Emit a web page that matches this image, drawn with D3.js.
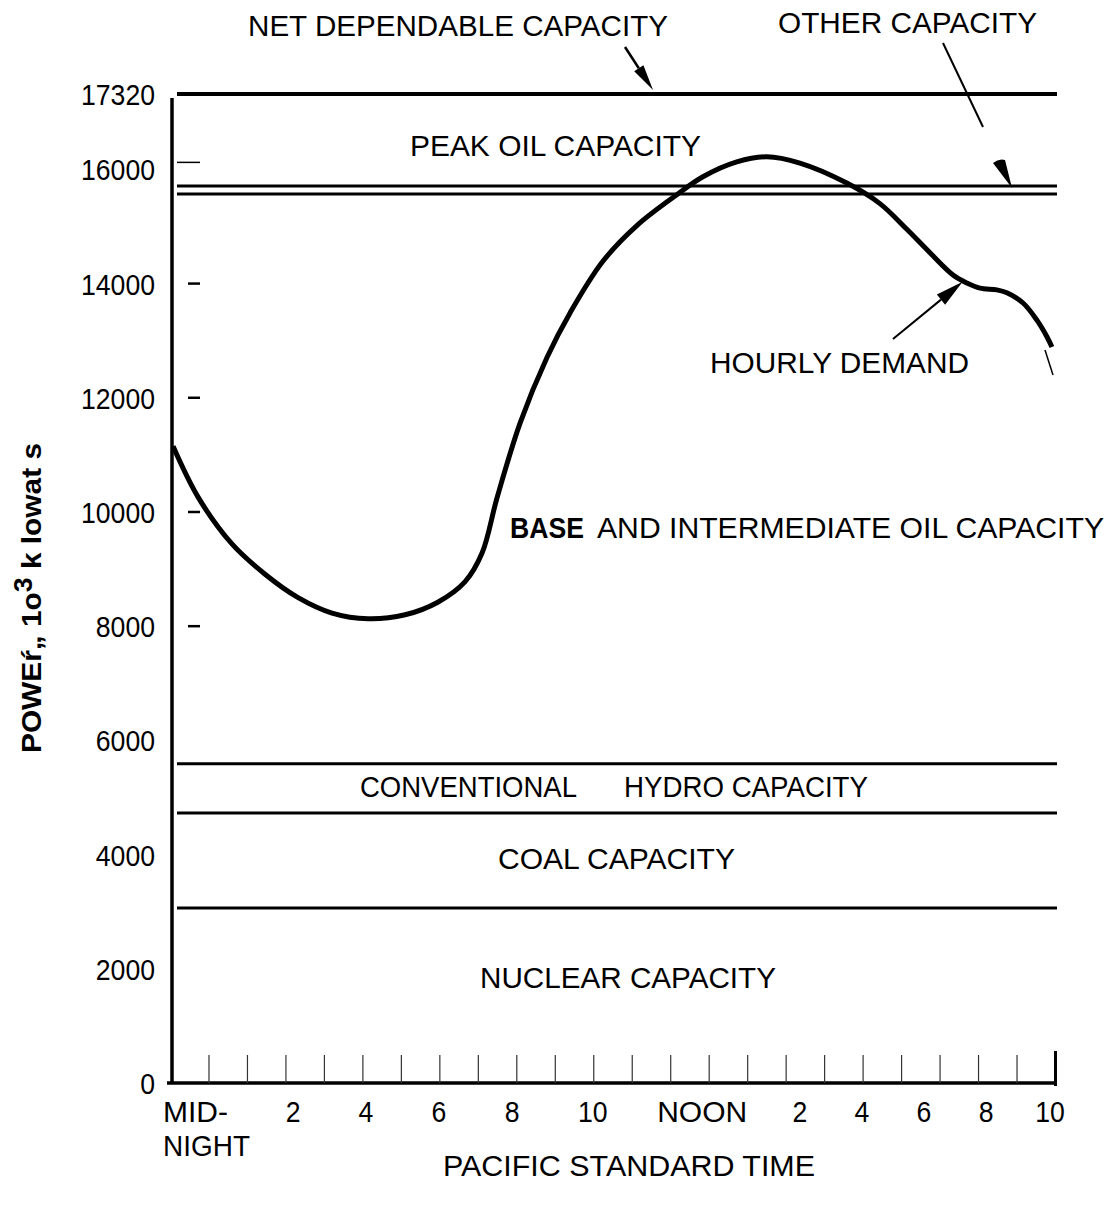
<!DOCTYPE html>
<html>
<head>
<meta charset="utf-8">
<script src="https://cdn.jsdelivr.net/npm/d3@7"></script>
<style>
body { margin: 0; background: #fff; }
text { font-family: "Liberation Sans", Arial, sans-serif; fill: #000; }
</style>
</head>
<body>
<svg id="chart" width="1109" height="1207"></svg>
<script>
"use strict"

// hourly demand (hour of day, 10^3 kW)
var demandHours  = [0.08, 0.73, 1.61, 2.47, 3.33, 4.21, 5.15, 6.11, 6.96, 7.67, 8.11, 8.5, 9.1, 9.8, 10.4,
                    11.25, 12.14, 13.18, 13.85, 14.73, 15.51, 16.37, 17.59, 18.45, 19.15, 19.75, 20.35,
                    20.71, 21.05, 21.49, 21.75, 22.17, 22.53, 22.79, 22.92];
var demandValues = [11150, 10260, 9440, 8910, 8500, 8230, 8130, 8200, 8420, 8780, 9280, 10250, 11560, 12710, 13490,
                    14390, 15020, 15560, 15870, 16130, 16220, 16110, 15760, 15400, 14950, 14540, 14150,
                    14010, 13920, 13890, 13840, 13660, 13360, 13070, 12890];

// capacity boundaries (10^3 kW)
var capacityNames  = ["net dependable", "peak oil", "other", "hydro", "coal", "nuclear"];
var capacityLevels = [17320, 15710, 15570, 5590, 4730, 3065];

var yTickValues = [0, 2000, 4000, 6000, 8000, 10000, 12000, 14000, 16000, 17320];
var yMinorTicks = [16000, 14000, 12000, 10000, 8000];

var xTickHours  = d3.range(1, 24);
var xLabels     = ["2", "4", "6", "8", "10", "NOON", "2", "4", "6", "8", "10"];
var xLabelHours = [3.2, 5.09, 6.99, 8.89, 10.99, 13.83, 16.37, 17.98, 19.59, 21.21, 22.87];

var svg = d3.select("#chart");

var x = d3.scaleLinear().domain([0, 23]).range([170, 1055]);
var y = d3.scaleLinear().domain([0, 17320]).range([1083, 94]);

var FS = 29;      // text size
var DIGIT = 14.8; // width of one digit in the original lettering

// text helper: left edge, right edge, vertical centre
function label(txt, x0, x1, cy, weight) {
	return svg.append("text")
	  .attr("x", x0)
	  .attr("y", cy + 10.5)
	  .attr("textLength", x1 - x0)
	  .attr("lengthAdjust", "spacingAndGlyphs")
	  .style("font-size", FS + "px")
	  .style("font-weight", weight || "normal")
	  .text(txt);
}

// capacity lines
svg.append("g")
  .selectAll("line")
  .data(capacityLevels)
  .enter()
  .append("line")
  .attr("x1", x(0) + 7)
  .attr("x2", x(23) + 2)
  .attr("y1", function(d){ return y(d); })
  .attr("y2", function(d){ return y(d); })
  .style("stroke", "#000")
  .style("stroke-width", function(d, i){ return i == 0 ? 4 : 3; });

// x axis: hourly ticks pointing up
var xAxis = d3.axisBottom(x)
  .tickValues(xTickHours)
  .tickSizeInner(-28)
  .tickSizeOuter(0)
  .tickFormat("");
var gx = svg.append("g")
  .attr("transform", "translate(0," + y(0) + ")")
  .call(xAxis);
gx.select(".domain")
  .attr("d", "M" + (x(0) - 3) + ",0H" + x(23))
  .style("stroke", "#000")
  .style("stroke-width", 3.5);
gx.selectAll(".tick line")
  .style("stroke", "#333")
  .style("stroke-width", 1.2);
gx.selectAll(".tick line")
  .filter(function(d){ return d == 23; })
  .attr("y1", 3)
  .attr("y2", -32)
  .style("stroke", "#000")
  .style("stroke-width", 3);

// x labels
svg.append("g")
  .selectAll("text")
  .data(xLabels)
  .enter()
  .append("text")
  .attr("x", function(d, i){ return x(xLabelHours[i]) - (d == "NOON" ? 45 : d.length * DIGIT / 2); })
  .attr("y", 1122)
  .attr("textLength", function(d){ return d == "NOON" ? 90 : d.length * DIGIT; })
  .attr("lengthAdjust", "spacingAndGlyphs")
  .style("font-size", FS + "px")
  .text(function(d){ return d; });
label("MID-", x(0) - 7, x(0) + 58, 1111);
label("NIGHT", x(0) - 7, x(0) + 80, 1145);

// y axis
var yAxis = d3.axisLeft(y)
  .tickValues(yTickValues)
  .tickSize(0)
  .tickPadding(17)
  .tickFormat(d3.format("d"));
var gy = svg.append("g")
  .attr("transform", "translate(" + (x(0) + 2) + ",0)")
  .call(yAxis);
gy.select(".domain")
  .attr("d", "M0," + (y(17320) + 4) + "V" + (y(0) + 1))
  .style("stroke", "#000")
  .style("stroke-width", 3.5);
gy.selectAll(".tick text")
  .style("font-size", FS + "px")
  .style("font-family", "'Liberation Sans', Arial, sans-serif")
  .attr("text-anchor", "start")
  .attr("x", function(d){ return -17 - String(d).length * DIGIT; })
  .attr("textLength", function(d){ return String(d).length * DIGIT; })
  .attr("lengthAdjust", "spacingAndGlyphs")
  .attr("dy", "0.36em");

// small inner dashes
svg.append("g")
  .selectAll("line")
  .data(yMinorTicks)
  .enter()
  .append("line")
  .attr("x1", function(d){ return d == 16000 ? x(0) + 7 : x(0) + 18; })
  .attr("x2", x(0) + 30)
  .attr("y1", function(d){ return d == 16000 ? y(d) - 7 : y(d); })
  .attr("y2", function(d){ return d == 16000 ? y(d) - 7 : y(d); })
  .style("stroke", "#000")
  .style("stroke-width", function(d){ return d == 16000 ? 1.5 : 2.5; });

// hourly demand curve
var demand = demandHours.map(function(h, i){ return {h: h, v: demandValues[i]}; });
var line = d3.line()
  .x(function(d){ return x(d.h); })
  .y(function(d){ return y(d.v); })
  .curve(d3.curveCatmullRom.alpha(0.5));
svg.append("path")
  .datum(demand)
  .attr("d", line)
  .style("fill", "none")
  .style("stroke", "#000")
  .style("stroke-width", 5);

// arrows
function arrow(x0, y0, x1, y1, headLen, headW, lw) {
	var ang = Math.atan2(y1 - y0, x1 - x0);
	var bx = x1 - headLen * Math.cos(ang), by = y1 - headLen * Math.sin(ang);
	var nx = -Math.sin(ang) * headW / 2, ny = Math.cos(ang) * headW / 2;
	svg.append("line")
	  .attr("x1", x0).attr("y1", y0)
	  .attr("x2", bx).attr("y2", by)
	  .style("stroke", "#000")
	  .style("stroke-width", lw);
	svg.append("path")
	  .attr("d", "M" + x1 + "," + y1 + "L" + (bx + nx) + "," + (by + ny) + "L" + (bx - nx) + "," + (by - ny) + "Z")
	  .style("fill", "#000");
}

arrow(625, 47, 653, 90, 26, 11, 2.5);
arrow(893, 339, x(20.6), y(14030), 28, 13, 2);

// other capacity pointer
svg.append("line")
  .attr("x1", 943).attr("y1", 43)
  .attr("x2", 983).attr("y2", 127)
  .style("stroke", "#000")
  .style("stroke-width", 2);
svg.append("path")
  .attr("d", "M993,163 Q999,158 1005,160 L1012,188 Z")
  .style("fill", "#000");

// stray mark below the curve end
svg.append("line")
  .attr("x1", 1045).attr("y1", 350)
  .attr("x2", 1053).attr("y2", 375)
  .style("stroke", "#000")
  .style("stroke-width", 1.5);

// annotations
label("NET  DEPENDABLE  CAPACITY", 248, 668, 25);
label("OTHER  CAPACITY", 778, 1037, 22);
label("PEAK  OIL  CAPACITY", 410, 701, 145);
label("HOURLY  DEMAND", 710, 969, 362);
label("BASE", 510, 584, 527, "bold");
label("AND  INTERMEDIATE  OIL  CAPACITY", 597, 1104, 527);
label("CONVENTIONAL", 360, 577, 786);
label("HYDRO CAPACITY", 624, 868, 786);
label("COAL  CAPACITY", 498, 735, 858);
label("NUCLEAR  CAPACITY", 480, 776, 977);
label("PACIFIC  STANDARD  TIME", 443, 815, 1165);

// y axis title
var ytitle = svg.append("text")
  .attr("transform", "translate(41,753) rotate(-90)")
  .attr("textLength", 310)
  .attr("lengthAdjust", "spacingAndGlyphs")
  .style("font-size", "28px")
  .style("font-weight", "bold");
ytitle.append("tspan").text("POWEŕ„  1o");
ytitle.append("tspan").attr("dy", -9).style("font-size", "25px").text("3");
ytitle.append("tspan").attr("dy", 9).text(" k lowat s");
</script>
</body>
</html>
